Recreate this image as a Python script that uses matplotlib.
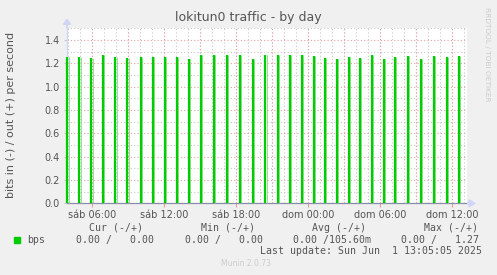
import matplotlib
matplotlib.use("Agg")
import matplotlib.pyplot as plt
import numpy as np

# ---- data (hours since sáb 00:00) ----
spike_hours = [3.94, 4.94, 5.94, 6.86, 7.94, 8.94, 10.03, 11.03, 12.08, 13.03,
               14.03, 15.08, 16.17, 17.25, 18.33, 19.36, 20.44, 21.44, 22.44,
               23.44, 24.44, 25.36, 26.36, 27.36, 28.28, 29.28, 30.28, 31.19,
               32.28, 33.36, 34.44, 35.53, 36.53]
spike_values = [1.256, 1.256, 1.247, 1.267, 1.256, 1.247, 1.25, 1.256, 1.256,
                1.25, 1.233, 1.267, 1.267, 1.267, 1.267, 1.239, 1.27, 1.27,
                1.27, 1.27, 1.259, 1.247, 1.239, 1.25, 1.247, 1.267, 1.233,
                1.25, 1.259, 1.239, 1.259, 1.25, 1.259]
x_start, x_end = 3.90, 37.23
xtick_hours = [6, 12, 18, 24, 30, 36]
xtick_labels = ["sáb 06:00", "sáb 12:00", "sáb 18:00", "dom 00:00", "dom 06:00", "dom 12:00"]
ytick_values = [0.0, 0.2, 0.4, 0.6, 0.8, 1.0, 1.2, 1.4]
legend_name = "bps"
col_headers = ["Cur (-/+)", "Min (-/+)", "Avg (-/+)", "Max (-/+)"]
col_values = ["0.00 /   0.00", "0.00 /   0.00", "0.00 /105.60m", "0.00 /   1.27"]
last_update = "Last update: Sun Jun  1 13:05:05 2025"

W, H = 497, 275
fig = plt.figure(figsize=(W / 100, H / 100), dpi=100, facecolor="#f0f0f0")
L, R, T, B = 67, 467, 28.3, 203.3
ax = fig.add_axes([L / W, (H - B) / H, (R - L) / W, (B - T) / H])
ax.set_facecolor("white")
ax.set_xlim(x_start, x_end)
ax.set_ylim(0, 1.5)

# grid
for h in np.arange(4, 38, 1):
    ax.axvline(h, color="#c8c8c8", lw=0.8, ls=(0, (1, 2)), zorder=1)
for h in np.arange(6, 38, 3):
    ax.axvline(h, color="#e8a0a0", lw=0.8, ls=(0, (1, 2)), zorder=1.1)
for v in np.arange(0.1, 1.51, 0.2):
    ax.axhline(v, color="#c8c8c8", lw=0.8, ls=(0, (1, 2)), zorder=1)
for v in np.arange(0.2, 1.41, 0.2):
    ax.axhline(v, color="#e8a0a0", lw=0.8, ls=(0, (1, 2)), zorder=1.1)

for s in ["top", "right"]:
    ax.spines[s].set_visible(False)
ax.spines["left"].set_color("#cfd6f8")
ax.spines["bottom"].set_color("#8a8ca8")
ax.spines["left"].set_linewidth(0.9)
ax.spines["bottom"].set_linewidth(0.9)
ax.spines["left"].set_zorder(2)

# data
ax.vlines(spike_hours, 0, spike_values, color="#00cc00", lw=1.6, zorder=4, clip_on=False)
ax.vlines(np.array(spike_hours) + 0.09, 0, spike_values, color="#7fe07f", lw=0.6,
          zorder=3.9, clip_on=False)

ax.set_xticks(xtick_hours)
ax.set_xticklabels(xtick_labels)
ax.set_yticks(ytick_values)
ax.set_yticklabels([f"{v:.1f}" for v in ytick_values])
ax.tick_params(axis="x", colors="#e8a0a0", labelcolor="#555555", length=3, width=0.8,
               labelsize=7, pad=2)
ax.tick_params(axis="y", colors="#c8c8c8", labelcolor="#555555", length=2, width=0.8,
               labelsize=7, pad=3)

# arrows
fig.patches.append(matplotlib.patches.FancyArrow(L / W, (H - T) / H, 0, 4 / H, width=0.0,
                   head_width=7 / W, head_length=5 / H, color="#cfd6f8",
                   transform=fig.transFigure, length_includes_head=False))
fig.patches.append(matplotlib.patches.FancyArrow(R / W, (H - B) / H, 2 / W, 0, width=0.0,
                   head_width=7 / H, head_length=6 / W, color="#cfd6f8",
                   transform=fig.transFigure, length_includes_head=False))

# texts
fig.text(248.5 / W, 1 - 18 / H, "lokitun0 traffic - by day", ha="center", va="center",
         fontsize=9, color="#555555")
fig.text(11 / W, 1 - 115 / H, "bits in (-) / out (+) per second", rotation=90,
         ha="center", va="center", fontsize=8, color="#555555")
fig.text(487 / W, 1 - 54 / H, "RRDTOOL / TOBI OETIKER", rotation=270, ha="center",
         va="center", fontsize=5.3, color="#cccccc")

mono = "DejaVu Sans Mono"
fig.patches.append(matplotlib.patches.Rectangle((14 / W, 1 - 243 / H), 6 / W, 6 / H,
                   color="#00cc00", transform=fig.transFigure))
fig.text(27 / W, 1 - 240 / H, legend_name, ha="left", va="center", fontsize=7.1,
         color="#555555", family=mono)
hdr_x = [116, 228, 339, 451]
val_x = [115, 224, 332, 440]
for hx, hd in zip(hdr_x, col_headers):
    fig.text(hx / W, 1 - 228 / H, hd, ha="center", va="center", fontsize=7.1,
             color="#555555", family=mono)
for vx, vv in zip(val_x, col_values):
    fig.text(vx / W, 1 - 240 / H, vv, ha="center", va="center", fontsize=7.1,
             color="#555555", family=mono)
fig.text(482 / W, 1 - 251 / H, last_update, ha="right", va="center", fontsize=7.1,
         color="#555555", family=mono)
fig.text(246 / W, 1 - 264 / H, "Munin 2.0.73", ha="center", va="center", fontsize=5.5,
         color="#cccccc")

fig.savefig("out.png", dpi=100, facecolor=fig.get_facecolor())
